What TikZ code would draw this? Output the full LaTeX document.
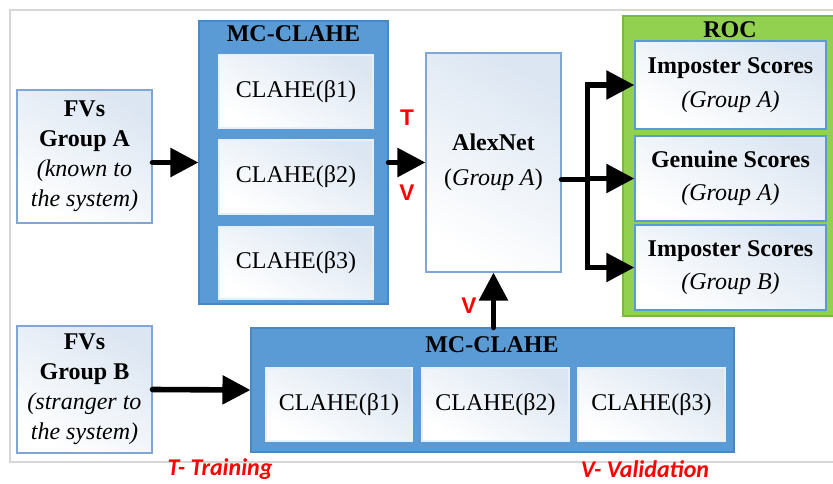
\documentclass[tikz,border=0pt]{standalone}
\usepackage{fontspec}
\setmainfont{Liberation Serif}
\newfontfamily\labelsans{Liberation Sans}
\newfontfamily\legendfont{Carlito}
\usetikzlibrary{arrows.meta,fit,calc}
\definecolor{panelblue}{HTML}{5B9BD5}
\definecolor{paneledge}{HTML}{4A88C4}
\definecolor{panelgreen}{HTML}{92D050}
\definecolor{greenedge}{HTML}{78B843}
\definecolor{boxtint}{HTML}{DCE6F2}
\definecolor{boxedge}{HTML}{7FA6D4}
\definecolor{framegray}{HTML}{D6D6D6}
\definecolor{tvred}{HTML}{FF0000}

\begin{document}
\begin{tikzpicture}[x=0.75pt,y=-0.75pt,
  sz/.style 2 args={minimum width=#1*0.75pt, minimum height=#2*0.75pt},
  txt/.style={font=\fontsize{18}{22.5}\selectfont, align=center},
  panel/.style={draw=paneledge, fill=panelblue, line width=0.8pt, inner sep=0pt},
  rocpanel/.style={draw=greenedge, fill=panelgreen, line width=1pt, inner sep=0pt},
  paneltitle/.style={font=\fontsize{18}{20}\selectfont\bfseries, inner sep=0pt},
  plainbox/.style={txt, draw=boxedge, line width=0.8pt, inner sep=0pt,
    top color=boxtint, bottom color=white, shading angle=-30},
  innerbox/.style={plainbox, draw=white!85!panelblue},
  scorebox/.style={plainbox, draw=panelblue, line width=1pt,
    font=\fontsize{18}{25}\selectfont},
  arr/.style={line width=4.2pt, line cap=round,
    -{Triangle[length=21pt,width=21pt]}},
  tv/.style={text=tvred, font=\labelsans\bfseries\fontsize{17}{20}\selectfont, inner sep=0pt},
  legend/.style={text=tvred, font=\legendfont\bfseries\itshape\fontsize{18}{20}\selectfont, inner sep=0pt}
]
\useasboundingbox (0,0) rectangle (833,483);

% outer frame
\draw[framegray, line width=1.5pt] (10,10) rectangle (848,462);

% input groups
\node[plainbox, sz={135}{133}] (fvA) at (84.5,156.5)
  {\textbf{FVs}\\ \textbf{Group A}\\ \textit{(known to}\\ \textit{the system)}};
\node[plainbox, sz={135}{127}] (fvB) at (84.5,389.5)
  {\textbf{FVs}\\ \textbf{Group B}\\ \textit{(stranger to}\\ \textit{the system)}};

% MC-CLAHE (group A), stacked vertically
\node[panel, fit={(199,21) (388,304)}] (mcA) {};
\node[paneltitle] (mcAt) at (293.5,34) {MC-CLAHE};
\node[innerbox, sz={154}{73}] (a1) at (296,91.5) {CLAHE(β1)};
\node[innerbox, sz={154}{74}] (a2) at (296,177) {CLAHE(β2)};
\node[innerbox, sz={154}{72}] (a3) at (296,263) {CLAHE(β3)};

% MC-CLAHE (group B), side by side
\node[panel, fit={(251,328) (734,452)}] (mcB) {};
\node[paneltitle] (mcBt) at (492,345) {MC-CLAHE};
\node[innerbox, sz={146}{73}] (b1) at (339,404.5) {CLAHE(β1)};
\node[innerbox, sz={147}{73}] (b2) at (495.5,404.5) {CLAHE(β2)};
\node[innerbox, sz={147}{73}] (b3) at (651.5,404.5) {CLAHE(β3)};

% network
\node[plainbox, sz={135}{219}, font=\fontsize{18}{26}\selectfont] (alex) at (493.5,162.5)
  {\textbf{AlexNet}\\ (\textit{Group A})};

% ROC panel with score boxes
\node[rocpanel, fit={(623,16) (845,316)}] (roc) {};
\node[paneltitle] (roct) at (730,30) {ROC};
\node[scorebox, sz={191}{88}] (imA) at (730.5,85) {\textbf{Imposter Scores}\\ \textit{(Group A)}};
\node[scorebox, sz={191}{85}] (genA) at (730.5,178.5) {\textbf{Genuine Scores}\\ \textit{(Group A)}};
\node[scorebox, sz={191}{85}] (imB) at (730.5,267.5) {\textbf{Imposter Scores}\\ \textit{(Group B)}};

% connectors
\draw[arr] (fvA.east |- mcA.west) -- (mcA.west);
\draw[arr] (mcA.east) -- (alex.west);
\draw[arr] (fvB.east) -- (mcB.west);
\draw[arr] (mcB.north -| alex.south) -- (alex.south);

\coordinate (out) at ($(alex.east)+(0,17)$);
\coordinate (split) at ($(out)+(26,0)$);
\draw[line width=4.2pt, line cap=round] (out) -- (split);
\draw[arr, line cap=butt] (split) |- (imA.west);
\draw[arr, line cap=butt] (split) -- (genA.west -| split) -- (genA.west);
\draw[arr, line cap=butt] (split) |- (imB.west);

% phase labels
\node[tv] (tA) at (407,118) {T};
\node[tv] (vA) at (407,193) {V};
\node[tv] (vB) at (469,306) {V};

% legend
\node[legend] (legT) at (220,469) {T- Training};
\node[legend] (legV) at (645,469) {V- Validation};
\end{tikzpicture}
\end{document}
